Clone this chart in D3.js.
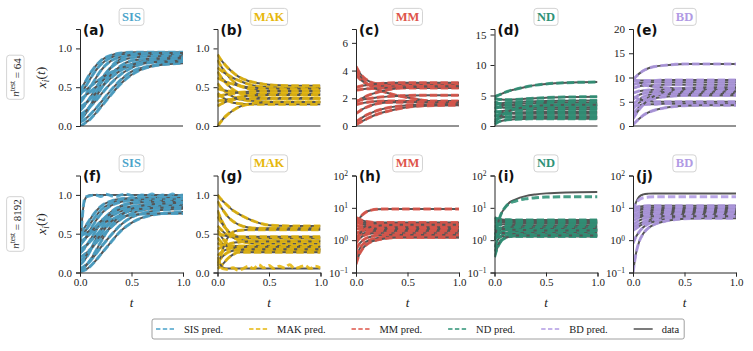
<!DOCTYPE html>
<html>
<head>
<meta charset="utf-8">
<script src="https://cdn.jsdelivr.net/npm/d3@7"></script>
<style>
  body { margin: 0; background: #fff; }
  svg { display: block; }
  text { font-family: "Liberation Serif", "DejaVu Serif", serif; fill: #222; }
</style>
</head>
<body>
<svg id="fig" width="753" height="351" font-family="Liberation Serif, serif"></svg>
<script>
// time samples shared by every trajectory
var tGrid = [0, 0.03, 0.06, 0.1, 0.15, 0.2, 0.3, 0.4, 0.5, 0.7, 1.0];
var tFine = [0, 0.05, 0.1, 0.15, 0.2, 0.25, 0.3, 0.35, 0.4, 0.45, 0.5, 0.55, 0.6, 0.65, 0.7, 0.75, 0.8, 0.85, 0.9, 0.95, 1.0];

var models = ["SIS", "MAK", "MM", "ND", "BD"];
var modelColors = ["#4aa3ca", "#e6b70c", "#de554a", "#2e9276", "#b19ae4"];
var rowLabels = ["64", "8192"];
var letters = ["(a)", "(b)", "(c)", "(d)", "(e)", "(f)", "(g)", "(h)", "(i)", "(j)"];
var linTicksSmall = [0, 0.5, 1.0];
var linTicksMM = [0, 2, 4, 6];
var linTicksND = [0, 5, 10, 15];
var linTicksBD = [0, 5, 10, 15, 20];
var logTicks = [0.1, 1, 10, 100];
var xTicks = [0, 0.5, 1.0];

// (a) SIS, n_test = 64
var sisA = [
  [0.45,0.52,0.59,0.68,0.77,0.84,0.91,0.94,0.95,0.95,0.95],
  [0.40,0.46,0.52,0.61,0.71,0.79,0.88,0.92,0.93,0.93,0.93],
  [0.30,0.35,0.41,0.50,0.61,0.71,0.84,0.89,0.91,0.92,0.92],
  [0.08,0.12,0.17,0.26,0.40,0.54,0.76,0.87,0.92,0.94,0.94],
  [0.20,0.24,0.29,0.37,0.48,0.59,0.75,0.84,0.88,0.90,0.90],
  [0.35,0.37,0.40,0.44,0.50,0.56,0.67,0.75,0.80,0.85,0.86],
  [0.25,0.27,0.30,0.35,0.42,0.49,0.62,0.72,0.78,0.84,0.86],
  [0.15,0.17,0.20,0.25,0.32,0.40,0.55,0.67,0.75,0.82,0.84],
  [0.05,0.07,0.10,0.15,0.22,0.30,0.46,0.60,0.70,0.78,0.82],
  [0.00,0.02,0.05,0.09,0.16,0.24,0.40,0.55,0.66,0.77,0.81],
  [0.43,0.45,0.47,0.51,0.56,0.61,0.69,0.75,0.79,0.82,0.83],
  [0.12,0.15,0.19,0.26,0.36,0.47,0.66,0.78,0.84,0.87,0.88]
];
// (f) SIS, n_test = 8192
var sisF = [
  [0.50,0.55,0.61,0.69,0.78,0.85,0.92,0.95,0.96,0.97,0.97],
  [0.45,0.50,0.55,0.63,0.72,0.80,0.89,0.93,0.95,0.96,0.96],
  [0.35,0.40,0.46,0.55,0.66,0.75,0.86,0.91,0.93,0.94,0.94],
  [0.25,0.29,0.34,0.42,0.53,0.63,0.78,0.86,0.90,0.92,0.92],
  [0.10,0.14,0.19,0.28,0.42,0.55,0.75,0.85,0.89,0.91,0.91],
  [0.40,0.42,0.45,0.50,0.56,0.62,0.72,0.79,0.83,0.87,0.88],
  [0.30,0.32,0.35,0.40,0.47,0.54,0.66,0.75,0.80,0.85,0.86],
  [0.20,0.22,0.25,0.30,0.37,0.45,0.58,0.69,0.76,0.82,0.84],
  [0.05,0.07,0.10,0.15,0.23,0.32,0.48,0.62,0.71,0.79,0.82],
  [0.00,0.02,0.04,0.08,0.15,0.23,0.39,0.54,0.64,0.74,0.78],
  [0.48,0.49,0.51,0.54,0.58,0.62,0.68,0.72,0.74,0.76,0.76],
  [0.15,0.18,0.22,0.29,0.39,0.49,0.65,0.75,0.80,0.83,0.84],
  [0.38,0.41,0.45,0.51,0.59,0.66,0.76,0.82,0.85,0.88,0.89],
  [0.02,0.05,0.09,0.16,0.27,0.39,0.60,0.74,0.82,0.88,0.90]
];
var sisFTopData = [0.30,0.82,0.97,1.0,1.0,1.0,1.0,1.0,1.0,1.0,1.0];
var sisFTopPred = [0.30,0.97,0.99,1.00,0.98,1.01,0.99,0.98,1.00,1.01,0.99,0.98,1.00,0.99,1.01,0.98,1.00,0.99,1.01,0.99,1.00];

// (b) MAK, n_test = 64
var makB = [
  [0.92,0.86,0.81,0.75,0.69,0.64,0.58,0.55,0.53,0.52,0.52],
  [0.85,0.78,0.72,0.65,0.58,0.53,0.48,0.46,0.45,0.45,0.45],
  [0.75,0.72,0.69,0.66,0.62,0.59,0.54,0.51,0.50,0.49,0.49],
  [0.70,0.64,0.59,0.53,0.47,0.43,0.39,0.37,0.36,0.36,0.36],
  [0.62,0.60,0.58,0.56,0.54,0.52,0.50,0.49,0.48,0.48,0.48],
  [0.55,0.50,0.46,0.42,0.38,0.35,0.33,0.32,0.31,0.31,0.31],
  [0.48,0.47,0.46,0.45,0.44,0.43,0.42,0.42,0.42,0.42,0.42],
  [0.42,0.39,0.36,0.33,0.30,0.29,0.28,0.28,0.28,0.28,0.28],
  [0.38,0.39,0.40,0.41,0.42,0.43,0.44,0.45,0.45,0.45,0.45],
  [0.32,0.33,0.33,0.34,0.34,0.35,0.35,0.35,0.35,0.35,0.35],
  [0.26,0.28,0.30,0.32,0.35,0.37,0.39,0.40,0.40,0.40,0.40],
  [0.00,0.05,0.10,0.15,0.20,0.24,0.28,0.30,0.31,0.31,0.31]
];
// (g) MAK, n_test = 8192
var makG = [
  [1.00,0.95,0.91,0.86,0.80,0.76,0.69,0.64,0.61,0.60,0.60],
  [0.92,0.85,0.79,0.72,0.66,0.62,0.58,0.57,0.57,0.57,0.57],
  [0.80,0.70,0.62,0.53,0.46,0.42,0.38,0.37,0.37,0.37,0.37],
  [0.72,0.66,0.60,0.54,0.49,0.46,0.44,0.44,0.44,0.44,0.44],
  [0.60,0.56,0.52,0.48,0.45,0.43,0.41,0.41,0.41,0.41,0.41],
  [0.55,0.48,0.42,0.36,0.32,0.30,0.28,0.28,0.28,0.28,0.28],
  [0.50,0.49,0.48,0.47,0.47,0.46,0.46,0.46,0.46,0.46,0.46],
  [0.45,0.40,0.36,0.33,0.31,0.30,0.30,0.30,0.30,0.30,0.30],
  [0.38,0.36,0.35,0.34,0.34,0.34,0.34,0.34,0.34,0.34,0.34],
  [0.30,0.32,0.34,0.36,0.38,0.39,0.40,0.40,0.40,0.40,0.40],
  [0.22,0.25,0.28,0.30,0.32,0.33,0.33,0.33,0.33,0.33,0.33],
  [0.12,0.18,0.22,0.26,0.28,0.29,0.30,0.30,0.30,0.30,0.30],
  [0.05,0.08,0.12,0.18,0.23,0.26,0.26,0.26,0.26,0.26,0.26],
  [0.08,0.20,0.33,0.45,0.52,0.54,0.55,0.55,0.55,0.55,0.55]
];
var makGLowData = [0.20,0.10,0.06,0.05,0.05,0.05,0.05,0.05,0.05,0.05,0.05];
var makGLowPred = [0.20,0.05,0.04,0.06,0.03,0.05,0.08,0.05,0.10,0.06,0.09,0.05,0.08,0.06,0.10,0.05,0.07,0.09,0.05,0.08,0.06];

// (c) MM, n_test = 64
var mmC = [
  [4.30,3.90,3.60,3.35,3.15,3.05,3.00,3.00,3.00,3.00,3.00],
  [4.05,3.70,3.40,3.10,2.85,2.65,2.40,2.20,2.05,1.80,1.55],
  [3.70,3.45,3.25,3.05,2.95,2.90,2.85,2.85,2.85,2.85,2.85],
  [2.60,2.62,2.65,2.68,2.70,2.72,2.74,2.75,2.75,2.75,2.75],
  [2.80,2.85,2.90,2.95,3.00,3.05,3.10,3.12,3.12,3.12,3.12],
  [1.80,1.85,1.90,1.95,2.00,2.05,2.12,2.17,2.20,2.22,2.22],
  [1.55,1.60,1.65,1.70,1.75,1.78,1.80,1.80,1.80,1.80,1.80],
  [0.90,1.05,1.20,1.35,1.50,1.60,1.70,1.72,1.72,1.70,1.70],
  [0.30,0.45,0.60,0.78,0.95,1.10,1.30,1.42,1.50,1.55,1.57],
  [0.10,0.22,0.35,0.50,0.68,0.83,1.05,1.22,1.35,1.47,1.50],
  [1.70,1.85,2.00,2.15,2.30,2.42,2.60,2.72,2.80,2.85,2.87]
];
// (h) MM, n_test = 8192
var mmH = [
  [3.0,4.5,6.0,7.5,8.5,9.0,9.2,9.2,9.2,9.2,9.2],
  [5.0,4.5,4.1,3.8,3.6,3.5,3.5,3.5,3.5,3.5,3.5],
  [4.2,3.9,3.6,3.4,3.3,3.2,3.2,3.2,3.2,3.2,3.2],
  [3.5,3.3,3.1,2.95,2.9,2.85,2.85,2.85,2.85,2.85,2.85],
  [2.8,2.7,2.6,2.55,2.5,2.5,2.5,2.5,2.5,2.5,2.5],
  [2.2,2.25,2.3,2.3,2.3,2.3,2.3,2.3,2.3,2.3,2.3],
  [1.6,1.8,1.9,2.0,2.05,2.05,2.05,2.05,2.05,2.05,2.05],
  [1.2,1.4,1.55,1.7,1.8,1.85,1.85,1.85,1.85,1.85,1.85],
  [0.8,1.1,1.3,1.5,1.6,1.65,1.65,1.65,1.65,1.65,1.65],
  [0.5,0.75,0.95,1.15,1.3,1.4,1.45,1.45,1.45,1.45,1.45],
  [0.3,0.5,0.7,0.9,1.05,1.15,1.25,1.25,1.25,1.25,1.25],
  [0.18,0.35,0.52,0.72,0.9,1.0,1.15,1.2,1.2,1.2,1.2],
  [3.8,3.5,3.2,3.0,2.75,2.7,2.65,2.65,2.65,2.65,2.65],
  [1.0,1.5,1.9,2.3,2.6,2.75,2.9,3.0,3.0,3.0,3.0]
];

// (d) ND, n_test = 64
var ndD = [
  [4.8,5.0,5.2,5.5,5.8,6.0,6.4,6.7,6.9,7.1,7.2],
  [4.5,4.4,4.35,4.3,4.3,4.35,4.45,4.55,4.65,4.75,4.8],
  [3.5,3.6,3.7,3.8,3.85,3.9,4.0,4.05,4.1,4.15,4.2],
  [2.8,3.0,3.2,3.4,3.5,3.6,3.7,3.75,3.78,3.8,3.8],
  [4.0,3.8,3.6,3.45,3.35,3.3,3.3,3.3,3.3,3.3,3.3],
  [3.2,3.1,3.05,3.0,3.0,3.0,3.0,3.0,3.0,3.0,3.0],
  [2.2,2.3,2.4,2.5,2.6,2.65,2.7,2.7,2.7,2.7,2.7],
  [1.5,1.7,1.9,2.0,2.1,2.2,2.25,2.3,2.3,2.3,2.3],
  [2.5,2.3,2.2,2.1,2.05,2.0,2.0,2.0,2.0,2.0,2.0],
  [1.0,1.2,1.35,1.45,1.5,1.55,1.6,1.6,1.6,1.6,1.6],
  [0.3,0.6,0.8,0.95,1.05,1.1,1.15,1.2,1.2,1.2,1.2],
  [1.8,1.7,1.6,1.55,1.5,1.45,1.4,1.4,1.4,1.4,1.4],
  [0.6,1.1,1.6,2.1,2.5,2.8,3.1,3.3,3.4,3.5,3.5]
];
// (i) ND, n_test = 8192
var ndI = [
  [5.0,4.6,4.4,4.3,4.25,4.2,4.2,4.2,4.2,4.2,4.2],
  [4.2,4.1,4.0,3.9,3.85,3.8,3.8,3.8,3.8,3.8,3.8],
  [3.5,3.5,3.5,3.5,3.5,3.5,3.5,3.5,3.5,3.5,3.5],
  [2.8,2.9,3.0,3.1,3.1,3.15,3.2,3.2,3.2,3.2,3.2],
  [2.0,2.2,2.4,2.6,2.7,2.8,2.8,2.8,2.8,2.8,2.8],
  [1.5,1.8,2.1,2.3,2.45,2.5,2.5,2.5,2.5,2.5,2.5],
  [1.0,1.4,1.7,2.0,2.15,2.2,2.2,2.2,2.2,2.2,2.2],
  [0.6,1.0,1.3,1.6,1.8,1.9,1.95,1.95,1.95,1.95,1.95],
  [0.3,0.6,0.9,1.2,1.45,1.6,1.7,1.7,1.7,1.7,1.7],
  [1.8,1.75,1.7,1.65,1.6,1.55,1.5,1.5,1.5,1.5,1.5],
  [1.2,1.25,1.3,1.3,1.3,1.3,1.3,1.3,1.3,1.3,1.3],
  [2.5,2.4,2.3,2.2,2.15,2.1,2.05,2.0,2.0,2.0,2.0],
  [0.45,0.7,0.95,1.15,1.3,1.4,1.4,1.4,1.4,1.4,1.4]
];
var ndITopData = [1.0,3.0,6.0,10,15,18,23,26,28,30,31];
var ndITopPred = [1.0,3.0,6.0,10,14,16,19,20.5,21.5,22,22];

// (e) BD, n_test = 64
var bdE = [
  [9.5,10.2,10.8,11.4,11.9,12.2,12.5,12.7,12.8,12.8,12.8],
  [9.2,9.3,9.4,9.4,9.4,9.4,9.5,9.5,9.5,9.5,9.5],
  [8.5,8.7,8.8,8.9,9.0,9.0,9.0,9.0,9.0,9.0,9.0],
  [7.8,8.0,8.2,8.3,8.4,8.4,8.5,8.5,8.5,8.5,8.5],
  [9.8,9.4,9.0,8.6,8.3,8.1,7.9,7.8,7.8,7.8,7.8],
  [6.8,7.0,7.2,7.3,7.4,7.5,7.5,7.5,7.5,7.5,7.5],
  [5.5,6.0,6.4,6.7,6.9,7.0,7.1,7.1,7.1,7.1,7.1],
  [4.5,5.0,5.5,6.0,6.4,6.6,6.8,6.9,6.9,6.9,6.9],
  [3.5,4.2,4.8,5.4,5.9,6.2,6.5,6.6,6.6,6.6,6.6],
  [2.5,3.2,3.9,4.6,5.2,5.6,6.0,6.2,6.3,6.3,6.3],
  [6.0,5.8,5.5,5.3,5.1,5.0,5.0,5.0,5.0,5.0,5.0],
  [4.0,4.2,4.3,4.4,4.5,4.5,4.6,4.6,4.6,4.6,4.6],
  [0.3,0.9,1.5,2.2,2.8,3.2,3.7,4.0,4.2,4.3,4.3],
  [1.5,2.5,3.4,4.4,5.4,6.1,7.0,7.5,7.8,8.0,8.0]
];
// (j) BD, n_test = 8192
var bdJ = [
  [10,10.5,11,11.3,11.5,11.6,11.7,11.7,11.7,11.7,11.7],
  [9,9.3,9.6,9.9,10.1,10.2,10.3,10.3,10.3,10.3,10.3],
  [7.5,8.0,8.4,8.8,9.0,9.1,9.2,9.2,9.2,9.2,9.2],
  [6,6.6,7.1,7.6,7.9,8.1,8.2,8.3,8.3,8.3,8.3],
  [5,5.5,6,6.5,6.9,7.1,7.3,7.4,7.4,7.4,7.4],
  [4,4.5,5,5.5,5.9,6.2,6.5,6.6,6.6,6.6,6.6],
  [3,3.5,4,4.6,5.1,5.5,5.8,6.0,6.0,6.0,6.0],
  [2.5,2.8,3.2,3.7,4.2,4.6,5.0,5.2,5.3,5.3,5.3],
  [2.0,2.3,2.7,3.2,3.7,4.1,4.6,4.9,5.0,5.0,5.0],
  [0.8,1.3,1.8,2.5,3.2,3.7,4.4,4.8,5.0,5.1,5.1],
  [0.1,0.4,0.9,1.6,2.4,3.0,3.8,4.3,4.6,4.8,4.8],
  [6.5,6.0,5.8,5.6,5.5,5.5,5.5,5.5,5.5,5.5,5.5]
];
var bdJTopData = [8.0,15,22,26,27.5,28,28,28,28,28,28];
var bdJTopPred = [8.0,14,18,20.5,21.5,22,22,22,22,22,22];

// layout
var colX = [80, 217.5, 356, 494.5, 633],
    rowY = [29, 175.5],
    pw = 103, ph = 97,
    dataColor = "#555555",
    serif = "'Liberation Serif', 'DejaVu Serif', serif";

var panels = [
  { row: 0, col: 0, curves: sisA, dom: [0, 1.25], ticks: linTicksSmall, fmt: ".1f" },
  { row: 0, col: 1, curves: makB, dom: [0, 1.25], ticks: linTicksSmall, fmt: ".1f" },
  { row: 0, col: 2, curves: mmC, dom: [0, 7], ticks: linTicksMM, fmt: "d" },
  { row: 0, col: 3, curves: ndD, dom: [0, 15.9], ticks: linTicksND, fmt: "d" },
  { row: 0, col: 4, curves: bdE, dom: [0, 20], ticks: linTicksBD, fmt: "d" },
  { row: 1, col: 0, curves: sisF, dom: [0, 1.25], ticks: linTicksSmall, fmt: ".1f",
    extra: { data: sisFTopData, pred: sisFTopPred, tPred: tFine } },
  { row: 1, col: 1, curves: makG, dom: [0, 1.25], ticks: linTicksSmall, fmt: ".1f",
    extra: { data: makGLowData, pred: makGLowPred, tPred: tFine } },
  { row: 1, col: 2, curves: mmH, log: true },
  { row: 1, col: 3, curves: ndI, log: true,
    extra: { data: ndITopData, pred: ndITopPred, tPred: tGrid } },
  { row: 1, col: 4, curves: bdJ, log: true,
    extra: { data: bdJTopData, pred: bdJTopPred, tPred: tGrid } }
];

var svg = d3.select("#fig");

var x = d3.scaleLinear().domain([0, 1]).range([0, pw]);

function lineOn(ts, y) {
  return d3.line()
    .x(function (d, i) { return x(ts[i]); })
    .y(function (d) { return y(d); })
    .curve(d3.curveMonotoneX);
}

function dataPath(g, vals, ts, y) {
  g.append("path")
    .attr("d", lineOn(ts, y)(vals))
    .attr("fill", "none")
    .attr("stroke", dataColor)
    .attr("stroke-width", 2)
    .attr("stroke-linejoin", "round");
}

function predPath(g, vals, ts, y, color) {
  g.append("path")
    .attr("d", lineOn(ts, y)(vals))
    .attr("fill", "none")
    .attr("stroke", color)
    .attr("stroke-width", 3)
    .attr("stroke-opacity", 0.88)
    .attr("stroke-dasharray", "7.4,3.2");
}

function titleBox(cx, cy, label, color) {
  var g = svg.append("g").attr("transform", "translate(" + cx + "," + cy + ")");
  var rect = g.append("rect");
  var t = g.append("text")
    .attr("text-anchor", "middle")
    .attr("dy", "0.35em")
    .attr("font-size", "12.5px")
    .attr("font-weight", "bold")
    .style("font-family", serif)
    .style("fill", color)
    .text(label);
  var b = t.node().getBBox();
  rect.attr("x", b.x - 3).attr("y", b.y - 1.5)
    .attr("width", b.width + 6).attr("height", b.height + 3)
    .attr("rx", 3)
    .attr("fill", "#fff")
    .attr("stroke", "#c8c8c8")
    .attr("stroke-width", 0.8);
}

function styleAxis(sel) {
  sel.attr("font-family", serif);
  sel.selectAll("text").attr("font-size", "11px").style("font-family", serif).style("fill", "#222");
  sel.selectAll("line, path").attr("stroke", "#262626");
}

panels.forEach(function (p, k) {
  var x0 = colX[p.col], y0 = rowY[p.row];
  var color = modelColors[p.col];
  var g = svg.append("g").attr("transform", "translate(" + x0 + "," + y0 + ")");

  var y = p.log
    ? d3.scaleLog().domain([0.1, 100]).range([ph, 0])
    : d3.scaleLinear().domain(p.dom).range([ph, 0]);

  var clipId = "clip" + k;
  g.append("clipPath").attr("id", clipId)
    .append("rect").attr("x", 0).attr("y", 0).attr("width", pw).attr("height", ph);
  var lines = g.append("g").attr("clip-path", "url(#" + clipId + ")");

  p.curves.forEach(function (c) {
    dataPath(lines, c, tGrid, y);
    predPath(lines, c, tGrid, y, color);
  });
  if (p.extra) {
    dataPath(lines, p.extra.data, tGrid, y);
    predPath(lines, p.extra.pred, p.extra.tPred, y, color);
  }

  // y axis
  var yAxis = d3.axisLeft(y).tickSizeOuter(0).tickSize(4).tickPadding(4);
  if (p.log) {
    yAxis.tickValues(logTicks).tickFormat(function () { return "10"; });
  } else {
    yAxis.tickValues(p.ticks).tickFormat(d3.format(p.fmt));
  }
  var ya = g.append("g").call(yAxis);
  styleAxis(ya);
  if (p.log) {
    ya.selectAll(".tick text").each(function (d) {
      var e = Math.round(Math.log10(d));
      d3.select(this).append("tspan")
        .attr("dy", "-0.45em")
        .attr("font-size", "7.5px")
        .text(e < 0 ? "\u2212" + (-e) : e);
    });
  }

  // x axis
  if (p.row === 1) {
    var xa = g.append("g")
      .attr("transform", "translate(0," + ph + ")")
      .call(d3.axisBottom(x).tickValues(xTicks).tickFormat(d3.format(".1f"))
        .tickSizeOuter(0).tickSize(4).tickPadding(2));
    styleAxis(xa);
    g.append("text")
      .attr("x", pw / 2).attr("y", ph + 34)
      .attr("text-anchor", "middle")
      .attr("font-size", "13px")
      .attr("font-style", "italic")
      .style("font-family", serif)
      .text("t");
  } else {
    g.append("line")
      .attr("x1", 0).attr("x2", pw).attr("y1", ph).attr("y2", ph)
      .attr("stroke", "#262626");
  }

  // panel letter
  g.append("text")
    .attr("x", 3).attr("y", 5.5)
    .attr("font-size", "13.5px")
    .attr("font-weight", "bold")
    .style("font-family", "'DejaVu Sans', sans-serif")
    .style("fill", "#111")
    .text(letters[k]);

  titleBox(x0 + pw / 2, y0 - 12.5, models[p.col], color);
});

// row labels and y labels
rowY.forEach(function (ry, r) {
  var cy = ry + ph / 2;
  var yl = svg.append("text")
    .attr("transform", "translate(46," + cy + ") rotate(-90)")
    .attr("text-anchor", "middle")
    .attr("font-size", "13.5px")
    .style("font-family", serif);
  yl.append("tspan").attr("font-style", "italic").text("x");
  yl.append("tspan").attr("font-style", "italic").attr("font-size", "9.5px").attr("dy", "0.3em").text("i");
  yl.append("tspan").attr("dy", "-0.3em").text("(");
  yl.append("tspan").attr("font-style", "italic").text("t");
  yl.append("tspan").text(")");

  var rg = svg.append("g").attr("transform", "translate(15," + cy + ") rotate(-90)");
  var rr = rg.append("rect");
  var rt = rg.append("text")
    .attr("text-anchor", "middle")
    .attr("dy", "0.35em")
    .attr("font-size", "11px")
    .style("font-family", serif);
  rt.append("tspan").attr("font-style", "italic").text("n");
  rt.append("tspan").attr("font-size", "7.5px").attr("dy", "-0.5em").text("test");
  rt.append("tspan").attr("dy", "0.5em").text(" = " + rowLabels[r]);
  var b = rt.node().getBBox();
  rr.attr("x", b.x - 2.5).attr("y", b.y - 1.5)
    .attr("width", b.width + 5).attr("height", b.height + 3)
    .attr("rx", 3)
    .attr("fill", "#fff")
    .attr("stroke", "#c8c8c8")
    .attr("stroke-width", 0.8);
});

// legend
var legendNames = ["SIS pred.", "MAK pred.", "MM pred.", "ND pred.", "BD pred.", "data"];
var legX = 152, legY = 319, legH = 20;
var lg = svg.append("g");
var lbox = lg.append("rect");
var cursor = legX + 4;
legendNames.forEach(function (name, i) {
  var isData = i === 5;
  lg.append("line")
    .attr("x1", cursor).attr("x2", cursor + 19)
    .attr("y1", legY + legH / 2).attr("y2", legY + legH / 2)
    .attr("stroke", isData ? "#444" : modelColors[i])
    .attr("stroke-width", 1.4)
    .attr("stroke-dasharray", isData ? null : "4.4,2.4");
  var t = lg.append("text")
    .attr("x", cursor + 28).attr("y", legY + legH / 2)
    .attr("dy", "0.35em")
    .attr("font-size", "10.5px")
    .style("font-family", serif)
    .text(name);
  cursor += 28 + t.node().getComputedTextLength() + 26;
});
lbox.attr("x", legX).attr("y", legY)
  .attr("width", cursor - 26 + 5 - legX).attr("height", legH)
  .attr("rx", 2)
  .attr("fill", "#fff")
  .attr("stroke", "#888")
  .attr("stroke-width", 0.8);
</script>
</body>
</html>
